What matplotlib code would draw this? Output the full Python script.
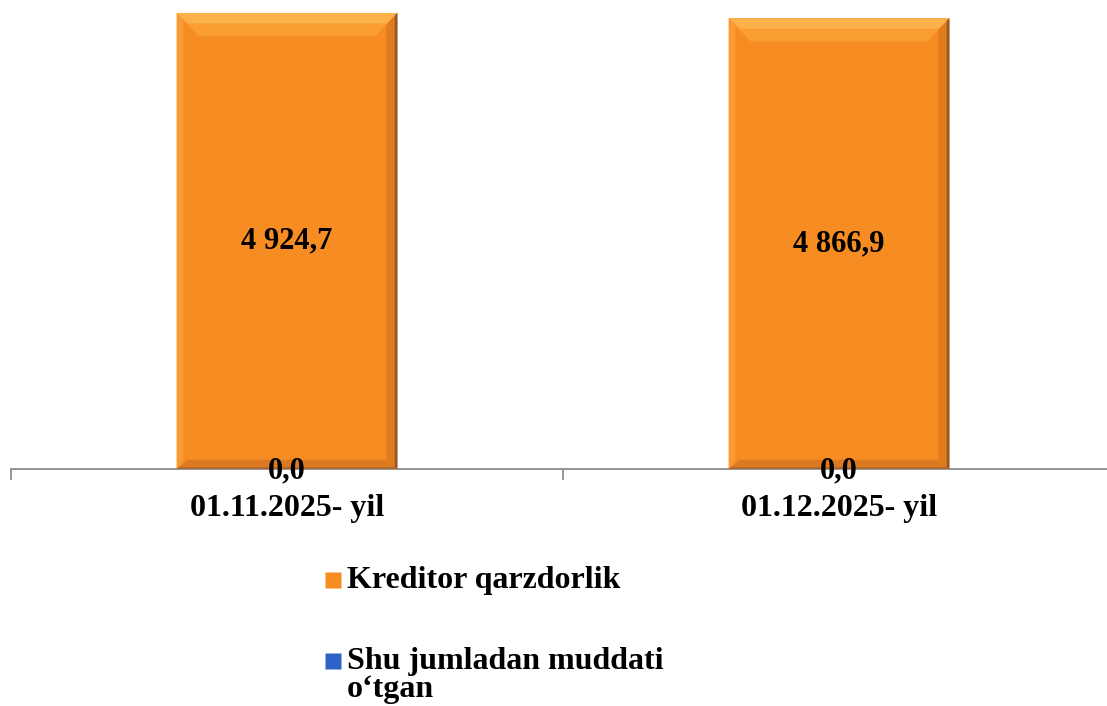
import matplotlib
matplotlib.use("Agg")
import matplotlib.pyplot as plt
from matplotlib.patches import Polygon
from matplotlib.lines import Line2D

# data
categories = ["01.11.2025- yil", "01.12.2025- yil"]
kreditor = [4924.7, 4866.9]
muddati_otgan = [0.0, 0.0]
series_names = ["Kreditor qarzdorlik", "Shu jumladan muddati\no\u2018tgan"]

orange = "#F78C22"
blue = "#2F62C8"

plt.rcParams['font.family'] = ['Liberation Serif', 'DejaVu Serif']
plt.rcParams['font.weight'] = 'bold'

W, H = 1107, 706
fig = plt.figure(figsize=(W / 100, H / 100), dpi=100)
ax = fig.add_axes([11 / W, 1 - 469 / H, 1104 / W, 463 / H])

x = list(range(len(categories)))
width = 0.4

bars = ax.bar(x, kreditor, width, color=orange, edgecolor="none", zorder=2)
bars2 = ax.bar(x, muddati_otgan, width, color=blue, edgecolor="none", zorder=3)


def fmt(v):
    return f"{v:,.1f}".replace(",", " ").replace(".", ",")


# bevel effect for bars, built from each bar's own geometry
for b in bars:
    x0, w, h = b.get_x(), b.get_width(), b.get_height()
    x1 = x0 + w
    bx = w * 0.10
    by = 5000 * 0.05
    ax.add_patch(Polygon([(x0, h), (x1, h), (x1 - bx, h - by), (x0 + bx, h - by)],
                         closed=True, color="#FA9E34", zorder=2.5, lw=0))
    ax.add_patch(Polygon([(x0, h), (x1, h), (x1 - bx * 0.5, h - by * 0.45), (x0 + bx * 0.5, h - by * 0.45)],
                         closed=True, color="#FCB24A", zorder=2.6, lw=0))
    ax.add_patch(Polygon([(x1, h), (x1, 0), (x1 - bx * 0.5, by * 0.4), (x1 - bx * 0.5, h - by * 0.5)],
                         closed=True, color="#E27A1E", zorder=2.5, lw=0))
    ax.add_patch(Polygon([(x1, h), (x1, 0), (x1 - bx * 0.12, by * 0.1), (x1 - bx * 0.12, h - by * 0.1)],
                         closed=True, color="#8E5A2E", zorder=2.6, lw=0))
    ax.add_patch(Polygon([(x0, 0), (x1, 0), (x1 - bx * 0.5, by * 0.4), (x0 + bx * 0.5, by * 0.4)],
                         closed=True, color="#DC7A24", zorder=2.55, lw=0))
    ax.add_patch(Polygon([(x0, 0), (x1, 0), (x1 - bx * 0.1, by * 0.08), (x0 + bx * 0.1, by * 0.08)],
                         closed=True, color="#B0682C", zorder=2.56, lw=0))
    ax.add_patch(Polygon([(x0, 0), (x0, h), (x0 + bx * 0.3, h - by * 0.3), (x0 + bx * 0.3, by * 0.3)],
                         closed=True, color="#F99A35", zorder=2.4, lw=0))
    ax.text(x0 + w / 2, h / 2, fmt(h), ha="center", va="center",
            fontsize=22, fontweight="bold", zorder=5)

for b in bars2:
    ax.annotate(fmt(b.get_height()), (b.get_x() + b.get_width() / 2, b.get_height()),
                xytext=(0, -2), textcoords="offset pixels",
                ha="center", va="center", fontsize=22, fontweight="bold", zorder=5)

ax.set_xlim(-0.5, len(categories) - 0.5)
ax.set_ylim(0, 5000)
ax.set_yticks([])
for s in ["top", "right", "left"]:
    ax.spines[s].set_visible(False)
ax.spines["bottom"].set_color("#8C8C8C")
ax.spines["bottom"].set_linewidth(1.3)
ax.set_xticks([-0.5, 0.5, 1.5])
ax.set_xticklabels([])
ax.tick_params(axis="x", length=8, color="#8C8C8C", width=1.3)
ax.set_xticks(x, minor=True)
ax.set_xticklabels(categories, minor=True, fontsize=23, fontweight="bold")
ax.tick_params(axis="x", which="minor", length=0, pad=18)

# legend drawn by hand so the marker sits on the first line of a wrapped label
leg_colors = [orange, blue]
marker_y = [580, 661]
for name, c, my in zip(series_names, leg_colors, marker_y):
    fig.add_artist(Line2D([333 / W], [1 - my / H], marker="s", markersize=11,
                          color=c, markeredgecolor="none", transform=fig.transFigure))
    for i, line in enumerate(name.split("\n")):
        fig.text(347 / W, 1 - (my + 8 + i * 28) / H, line, fontsize=23,
                 fontweight="bold", ha="left", va="baseline")

fig.savefig("out.png", dpi=100)
